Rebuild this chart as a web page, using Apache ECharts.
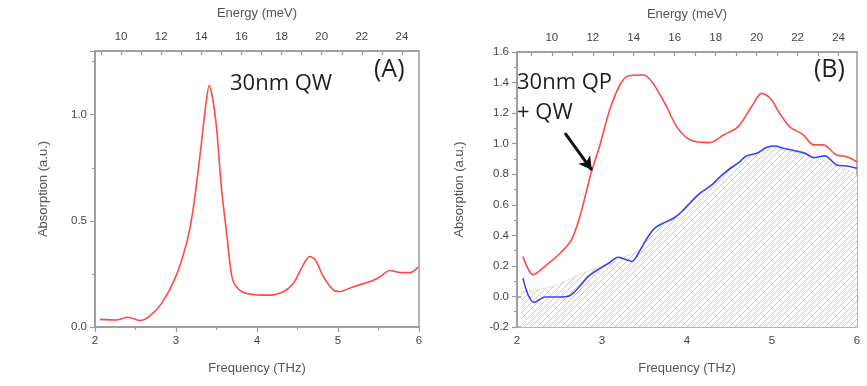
<!DOCTYPE html>
<html>
<head>
<meta charset="utf-8">
<script src="https://cdn.jsdelivr.net/npm/echarts@6/dist/echarts.min.js"></script>
<style>
  html, body { margin: 0; padding: 0; background: #fff; }
  #chart { width: 867px; height: 386px; }
</style>
</head>
<body>
<div id="chart"></div>
<script>
// Panel A: 30 nm quantum well absorption spectrum
const freqA = [2.06, 2.27, 2.41, 2.56, 2.66, 2.82, 2.99, 3.13, 3.21, 3.30, 3.36, 3.41, 3.49, 3.56, 3.63, 3.70, 3.81, 4.00, 4.16, 4.33, 4.45, 4.55, 4.65, 4.72, 4.82, 4.94, 5.02, 5.19, 5.40, 5.52, 5.64, 5.77, 5.89, 5.99];
const absA  = [0.036, 0.033, 0.046, 0.030, 0.046, 0.11, 0.23, 0.395, 0.55, 0.82, 1.02, 1.137, 0.976, 0.66, 0.426, 0.222, 0.167, 0.151, 0.150, 0.167, 0.206, 0.277, 0.332, 0.316, 0.237, 0.175, 0.167, 0.19, 0.214, 0.237, 0.266, 0.256, 0.256, 0.282];

// Panel B: quantum plasmon + well (red), well contribution (blue), background (hatched)
const freqRedB = [2.07, 2.19, 2.35, 2.51, 2.64, 2.74, 2.86, 2.98, 3.09, 3.21, 3.31, 3.49, 3.60, 3.76, 3.88, 4.04, 4.27, 4.43, 4.60, 4.76, 4.88, 4.98, 5.09, 5.21, 5.37, 5.49, 5.60, 5.76, 5.88, 6.0];
const absRedB  = [0.261, 0.142, 0.207, 0.284, 0.37, 0.523, 0.784, 1.0, 1.22, 1.384, 1.443, 1.449, 1.395, 1.242, 1.11, 1.024, 1.007, 1.057, 1.11, 1.242, 1.329, 1.297, 1.199, 1.11, 1.057, 0.992, 0.992, 0.926, 0.915, 0.882];

const freqBlueB = [2.07, 2.13, 2.20, 2.33, 2.47, 2.62, 2.72, 2.84, 2.98, 3.09, 3.19, 3.27, 3.35, 3.43, 3.53, 3.62, 3.72, 3.84, 3.94, 4.04, 4.15, 4.29, 4.39, 4.51, 4.60, 4.70, 4.82, 4.94, 5.04, 5.13, 5.27, 5.39, 5.49, 5.62, 5.76, 5.88, 6.0];
const absBlueB  = [0.12, 0.011, -0.039, -0.004, -0.004, 0.005, 0.055, 0.131, 0.185, 0.222, 0.257, 0.244, 0.229, 0.284, 0.381, 0.447, 0.48, 0.512, 0.556, 0.615, 0.675, 0.73, 0.784, 0.839, 0.872, 0.92, 0.937, 0.976, 0.985, 0.97, 0.954, 0.937, 0.909, 0.92, 0.861, 0.854, 0.839];

const freqShadeB = [2.05, 2.42, 2.8, 3.01, 3.2, 3.41, 3.5, 3.6, 3.72, 3.84, 3.94, 4.04, 4.15, 4.29, 4.39, 4.51, 4.6, 4.7, 4.82, 4.94, 5.04, 5.13, 5.27, 5.39, 5.5, 5.62, 5.76, 5.88, 6.0];
const absShadeB  = [0.03, 0.065, 0.16, 0.196, 0.245, 0.294, 0.35, 0.43, 0.47, 0.505, 0.55, 0.605, 0.665, 0.72, 0.775, 0.83, 0.865, 0.91, 0.93, 0.965, 0.975, 0.96, 0.945, 0.925, 0.905, 0.89, 0.85, 0.83, 0.795];

// Arrow pointing at the red curve in panel B (frequency, absorption)
const arrowFrom = [2.565, 1.069];
const arrowTo   = [2.88, 0.827];

const zip = (xs, ys) => xs.map((x, i) => [x, ys[i]]);

// Diagonal hatch pattern for the background area
function hatchPattern() {
  const s = 6;
  const c = document.createElement('canvas');
  c.width = s; c.height = s;
  const g = c.getContext('2d');
  g.fillStyle = '#fdfdfd';
  g.fillRect(0, 0, s, s);
  g.strokeStyle = '#bdbdbd';
  g.lineWidth = 0.8;
  g.beginPath();
  g.moveTo(-1, s + 1); g.lineTo(s + 1, -1);
  g.moveTo(-1, 1); g.lineTo(1, -1);
  g.moveTo(s - 1, s + 1); g.lineTo(s + 1, s - 1);
  g.stroke();
  return c;
}

const FONT = 'Liberation Sans, Arial, sans-serif';
const AXIS_COLOR = '#9a9a9a';
const LABEL_COLOR = '#444';
const NAME_COLOR = '#555';

const axisLineStyle = { show: true, lineStyle: { color: AXIS_COLOR, width: 1.5 } };

function freqAxis(gridIndex) {
  return {
    type: 'value', gridIndex, position: 'bottom',
    min: 2, max: 6, interval: 1,
    name: 'Frequency (THz)', nameLocation: 'middle', nameGap: 35,
    nameTextStyle: { color: NAME_COLOR, fontSize: 13, fontFamily: FONT },
    axisLine: axisLineStyle,
    axisTick: { show: true, inside: false, length: 5, lineStyle: { color: AXIS_COLOR, width: 1.2 } },
    minorTick: { show: true, splitNumber: 2, length: 3, lineStyle: { color: AXIS_COLOR, width: 1 } },
    axisLabel: { color: LABEL_COLOR, fontSize: 11.5, fontFamily: FONT, margin: 8 },
    splitLine: { show: false }
  };
}

function energyAxis(gridIndex, min, max) {
  return {
    type: 'value', gridIndex, position: 'top',
    min, max, splitNumber: 16,
    name: 'Energy (meV)', nameLocation: 'middle', nameGap: 31,
    nameTextStyle: { color: NAME_COLOR, fontSize: 13, fontFamily: FONT },
    axisLine: axisLineStyle,
    axisTick: { show: true, inside: true, length: 4, lineStyle: { color: AXIS_COLOR, width: 1.2 } },
    axisLabel: {
      color: LABEL_COLOR, fontSize: 11.5, fontFamily: FONT, margin: 8,
      showMinLabel: false, showMaxLabel: false,
      formatter: v => (Math.abs(v - Math.round(v)) < 1e-6 && Math.round(v) % 2 === 0) ? String(Math.round(v)) : ''
    },
    splitLine: { show: false }
  };
}

function absAxis(gridIndex, min, max, interval, nameGap, showMax) {
  return {
    type: 'value', gridIndex, position: 'left',
    min, max, interval,
    name: 'Absorption (a.u.)', nameLocation: 'middle', nameGap,
    nameTextStyle: { color: NAME_COLOR, fontSize: 13, fontFamily: FONT },
    axisLine: axisLineStyle,
    axisTick: { show: true, inside: false, length: 5, lineStyle: { color: AXIS_COLOR, width: 1.2 } },
    minorTick: { show: true, splitNumber: 2, length: 3, lineStyle: { color: AXIS_COLOR, width: 1 } },
    axisLabel: {
      color: LABEL_COLOR, fontSize: 11.5, fontFamily: FONT, margin: 8,
      showMaxLabel: showMax,
      formatter: v => v.toFixed(1)
    },
    splitLine: { show: false }
  };
}

const chart = echarts.init(document.getElementById('chart'), null, { renderer: 'canvas' });

chart.setOption({
  backgroundColor: '#ffffff',
  animation: false,
  grid: [
    { left: 95, top: 51, width: 324, height: 276, show: true, borderColor: AXIS_COLOR, borderWidth: 1.5, backgroundColor: 'transparent' },
    { left: 517, top: 52, width: 340, height: 275, show: true, borderColor: AXIS_COLOR, borderWidth: 1.5, backgroundColor: 'transparent' }
  ],
  xAxis: [
    freqAxis(0),
    energyAxis(0, 8.7, 24.85),
    freqAxis(1),
    energyAxis(1, 8.3, 24.9)
  ],
  yAxis: [
    absAxis(0, 0, 1.3, 0.5, 45, false),
    absAxis(1, -0.2, 1.6, 0.2, 51, true)
  ],
  series: [
    {
      name: '30nm QW', type: 'line', xAxisIndex: 0, yAxisIndex: 0,
      data: zip(freqA, absA), showSymbol: false, smooth: 0.3,
      lineStyle: { color: '#ff4a4a', width: 1.6 }, z: 3
    },
    {
      name: 'background', type: 'line', xAxisIndex: 2, yAxisIndex: 1,
      data: zip(freqShadeB, absShadeB), showSymbol: false, smooth: 0.3,
      lineStyle: { color: '#c8c8c8', width: 1, type: 'dotted' },
      areaStyle: { origin: 'start', color: { image: hatchPattern(), repeat: 'repeat' }, opacity: 1 },
      z: 1
    },
    {
      name: 'QW', type: 'line', xAxisIndex: 2, yAxisIndex: 1,
      data: zip(freqBlueB, absBlueB), showSymbol: false, smooth: 0.3,
      lineStyle: { color: '#3a45f0', width: 1.6 }, z: 3
    },
    {
      name: '30nm QP + QW', type: 'line', xAxisIndex: 2, yAxisIndex: 1,
      data: zip(freqRedB, absRedB), showSymbol: false, smooth: 0.3,
      lineStyle: { color: '#ff4a4a', width: 1.6 }, z: 3,
      markLine: {
        silent: true, symbol: ['none', 'arrow'], symbolSize: [11, 13],
        label: { show: false },
        lineStyle: { color: '#111', width: 3, type: 'solid' },
        data: [[{ coord: arrowFrom }, { coord: arrowTo }]]
      }
    }
  ],
  graphic: [
    { type: 'text', left: 230, top: 73, style: { text: '30nm QW', font: '22px "Open Sans", sans-serif', fill: '#1e1e1e' } },
    { type: 'text', left: 374, top: 57, style: { text: '(A)', font: '25px "Open Sans", sans-serif', fill: '#1e1e1e' } },
    { type: 'text', left: 517, top: 72, style: { text: '30nm QP', font: '22px "Open Sans", sans-serif', fill: '#1e1e1e' } },
    { type: 'text', left: 517, top: 102, style: { text: '+ QW', font: '22px "Open Sans", sans-serif', fill: '#1e1e1e' } },
    { type: 'text', left: 814, top: 57, style: { text: '(B)', font: '25px "Open Sans", sans-serif', fill: '#1e1e1e' } }
  ]
});
</script>
</body>
</html>
